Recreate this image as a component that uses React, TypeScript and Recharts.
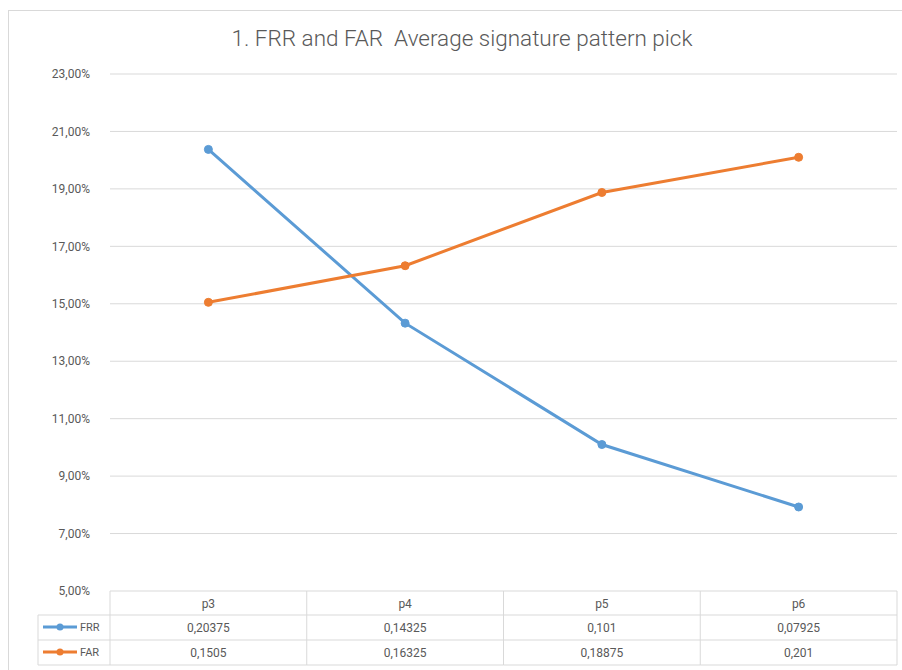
import { LineChart, Line, XAxis, YAxis, CartesianGrid } from 'recharts';

const categories = ['p3', 'p4', 'p5', 'p6'];
const frr = [0.20375, 0.14325, 0.101, 0.07925];
const far = [0.1505, 0.16325, 0.18875, 0.201];
const frrLabels = ['0,20375', '0,14325', '0,101', '0,07925'];
const farLabels = ['0,1505', '0,16325', '0,18875', '0,201'];
const yTicks = [0.05, 0.07, 0.09, 0.11, 0.13, 0.15, 0.17, 0.19, 0.21, 0.23];

const data = categories.map((c, i) => ({ name: c, FRR: frr[i], FAR: far[i] }));

const BLUE = '#5B9BD5';
const ORANGE = '#ED7D31';
const GRID = '#D9D9D9';
const TEXT = '#595959';
const FONT = 'Roboto, "Liberation Sans", sans-serif';

const PLOT_LEFT = 110;
const PLOT_RIGHT = 897;
const BAND = (PLOT_RIGHT - PLOT_LEFT) / categories.length;
const ROW = [0, 24, 49, 74];

function TableTick(props: any) {
  const { x, y, payload, index } = props;
  const left = x - BAND / 2;
  const i = index ?? categories.indexOf(payload.value);
  return (
    <g>
      {i === 0 && (
        <g>
          <line x1={38} x2={left} y1={y + ROW[1]} y2={y + ROW[1]} stroke={GRID} />
          <line x1={38} x2={left} y1={y + ROW[2]} y2={y + ROW[2]} stroke={GRID} />
          <line x1={38} x2={left} y1={y + ROW[3]} y2={y + ROW[3]} stroke={GRID} />
          <line x1={38} x2={38} y1={y + ROW[1]} y2={y + ROW[3]} stroke={GRID} />
          <line x1={left} x2={left} y1={y} y2={y + ROW[3]} stroke={GRID} />
          <line x1={43} x2={77} y1={y + 36} y2={y + 36} stroke={BLUE} strokeWidth={3} />
          <circle cx={60} cy={y + 36} r={3.5} fill={BLUE} />
          <text x={80} y={y + 40} fontSize={11} fill={TEXT} fontFamily={FONT}>FRR</text>
          <line x1={43} x2={77} y1={y + 61} y2={y + 61} stroke={ORANGE} strokeWidth={3} />
          <circle cx={60} cy={y + 61} r={3.5} fill={ORANGE} />
          <text x={80} y={y + 65} fontSize={11} fill={TEXT} fontFamily={FONT}>FAR</text>
        </g>
      )}
      <line x1={left} x2={left + BAND} y1={y + ROW[1]} y2={y + ROW[1]} stroke={GRID} />
      <line x1={left} x2={left + BAND} y1={y + ROW[2]} y2={y + ROW[2]} stroke={GRID} />
      <line x1={left} x2={left + BAND} y1={y + ROW[3]} y2={y + ROW[3]} stroke={GRID} />
      <line x1={left + BAND} x2={left + BAND} y1={y} y2={y + ROW[3]} stroke={GRID} />
      <text x={x} y={y + 17} textAnchor="middle" fontSize={12} fill={TEXT} fontFamily={FONT}>{payload.value}</text>
      <text x={x} y={y + 41} textAnchor="middle" fontSize={12} fill={TEXT} fontFamily={FONT}>{frrLabels[i]}</text>
      <text x={x} y={y + 66} textAnchor="middle" fontSize={12} fill={TEXT} fontFamily={FONT}>{farLabels[i]}</text>
    </g>
  );
}

const fmt = (v: number) => (v * 100).toFixed(2).replace('.', ',') + '%';

export default function App() {
  return (
    <div style={{ position: 'absolute', left: 0, top: 0, width: 902, height: 670, background: '#fff' }}>
      <div
        style={{
          position: 'absolute',
          left: 8,
          top: 10,
          width: 894,
          height: 660,
          borderLeft: '1px solid #D9D9D9',
          borderTop: '1px solid #D9D9D9',
        }}
      />
      <div
        style={{
          position: 'absolute',
          left: 0,
          top: 25,
          width: 924,
          textAlign: 'center',
          fontFamily: FONT,
          fontSize: 22.5,
          fontWeight: 300,
          color: TEXT,
          whiteSpace: 'pre',
        }}
      >
        {'1. FRR and FAR  Average signature pattern pick'}
      </div>
      <LineChart
        width={902}
        height={670}
        data={data}
        margin={{ top: 74, right: 902 - PLOT_RIGHT, bottom: 5, left: 40 }}
        style={{ position: 'absolute', left: 0, top: 0 }}
      >
        <CartesianGrid vertical={false} stroke={GRID} />
        <XAxis
          dataKey="name"
          axisLine={false}
          tickLine={false}
          tickSize={0}
          tickMargin={0}
          height={74}
          interval={0}
          padding={{ left: BAND / 2, right: BAND / 2 }}
          tick={<TableTick />}
        />
        <YAxis
          domain={[0.05, 0.23]}
          ticks={yTicks}
          tickFormatter={fmt}
          axisLine={false}
          tickLine={false}
          width={70}
          tickMargin={14}
          tick={{ fontSize: 12, fill: TEXT, fontFamily: FONT }}
        />
        <Line
          dataKey="FRR"
          stroke={BLUE}
          strokeWidth={3}
          dot={{ r: 4, fill: BLUE, stroke: BLUE, strokeWidth: 1 }}
          isAnimationActive={false}
        />
        <Line
          dataKey="FAR"
          stroke={ORANGE}
          strokeWidth={3}
          dot={{ r: 4, fill: ORANGE, stroke: ORANGE, strokeWidth: 1 }}
          isAnimationActive={false}
        />
      </LineChart>
    </div>
  );
}
